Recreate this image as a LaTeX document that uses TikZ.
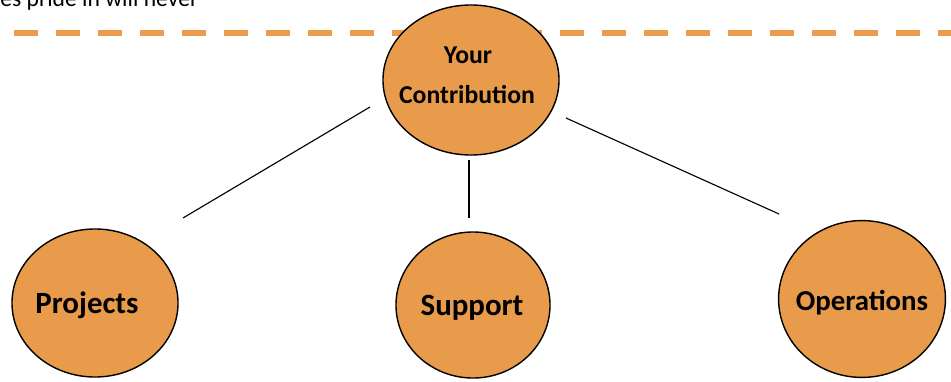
\documentclass[tikz,border=0pt]{standalone}
\usepackage{fontspec}
\setmainfont{Carlito}
\usetikzlibrary{shapes.geometric}
\definecolor{bubbleorange}{HTML}{E99B4C}
\definecolor{dashorange}{HTML}{EB9C4C}
\tikzset{
bubble/.style={ellipse, draw, line width=1pt, fill=bubbleorange, inner sep=0pt},
lbl/.style={inner sep=0pt, anchor=base, font=\bfseries\fontsize{22}{26}\selectfont},
toplbl/.style={lbl, font=\bfseries\fontsize{18.3}{22}\selectfont},
link/.style={line width=0.8pt}
}

\begin{document}
\begin{tikzpicture}[x=0.025cm, y=-0.025cm]
\useasboundingbox (0,0) rectangle (951,381);

\node [inner sep=0pt, anchor=base west, font=\fontsize{16.8}{20}\selectfont] (intro) at (0,7) {es pride in will never};

\coordinate (dashL) at (14,33);
\coordinate (dashR) at (951,33);
\draw [dashorange, line width=0.15cm, dash pattern=on 0.6cm off 0.45cm] (dashL) -- (dashR);

\node [bubble, minimum width=4.4cm, minimum height=3.75cm] (contrib) at (471,80) {};
\node [bubble, minimum width=4.15cm, minimum height=3.7cm] (projects) at (95,303) {};
\node [bubble, minimum width=3.85cm, minimum height=3.65cm] (support) at (473,305) {};
\node [bubble, minimum width=4.17cm, minimum height=3.92cm] (operations) at (862,299) {};

\node [toplbl] (yourtxt) at (468,64) {Your};
\node [toplbl] (contribtxt) at (467,103) {Contribution};
\node [lbl] (projtxt) at (87,313) {Projects};
\node [lbl] (supptxt) at (472,315) {Support};
\node [lbl, font=\bfseries\fontsize{20.5}{24}\selectfont] (opstxt) at (862,310) {Operations};

\coordinate (c1a) at (370,107);
\coordinate (c1b) at (183,218);
\coordinate (c2a) at (469,160);
\coordinate (c2b) at (469,218);
\coordinate (c3a) at (566,118);
\coordinate (c3b) at (779,214);
\draw [link] (c1a) -- (c1b);
\draw [link] (c2a) -- (c2b);
\draw [link] (c3a) -- (c3b);
\end{tikzpicture}
\end{document}
